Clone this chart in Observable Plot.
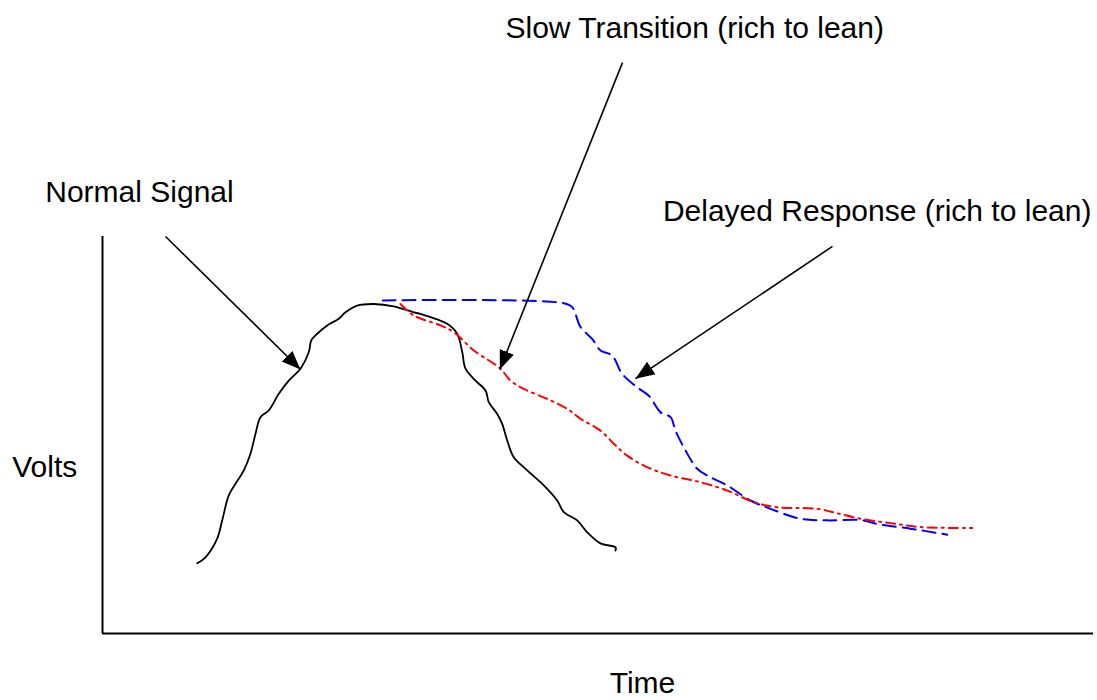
<!DOCTYPE html>
<html>
<head>
<meta charset="utf-8">
<script src="https://cdn.jsdelivr.net/npm/d3@7"></script>
<script src="https://cdn.jsdelivr.net/npm/@observablehq/plot@0.6"></script>
<style>
  html, body { margin: 0; padding: 0; background: #fff; }
  #chart svg { display: block; }
</style>
</head>
<body>
<div id="chart"></div>
<script>
// Time (0–100) and Volts (0–10)
const normalTime  = [9.56,10.39,11.57,12.08,12.74,13.42,14.26,14.93,15.44,15.94,16.78,17.79,18.80,19.98,20.82,21.06,21.67,22.67,23.84,24.52,25.70,27.38,29.39,31.41,32.09,34.78,35.79,36.30,36.63,37.64,38.65,38.98,39.83,40.33,40.84,41.50,42.86,44.53,45.88,46.55,47.90,48.91,50.25,51.77,51.77];
const normalVolts = [1.77,1.92,2.39,2.85,3.48,3.77,4.11,4.53,5.03,5.45,5.62,6.04,6.37,6.67,7.09,7.38,7.55,7.76,7.93,8.09,8.26,8.30,8.24,8.09,8.05,7.80,7.55,7.09,6.67,6.37,6.12,5.83,5.53,5.28,4.86,4.44,4.11,3.73,3.35,3.06,2.85,2.55,2.27,2.17,2.09];

const slowTime  = [30.07,31.41,34.11,35.45,37.47,40.16,41.17,42.51,44.87,46.89,48.23,50.25,51.60,52.94,54.96,57.32,60.34,63.04,65.72,68.08,72.12,74.13,76.49,79.52,82.54,87.76];
const slowVolts = [8.30,8.01,7.76,7.59,7.13,6.67,6.37,6.16,5.91,5.66,5.41,5.11,4.78,4.48,4.19,3.98,3.81,3.60,3.31,3.18,3.14,3.03,2.89,2.78,2.68,2.66];

const delayedTime  = [28.28,46.55,47.40,48.23,49.41,50.25,51.43,52.44,53.96,55.13,56.31,57.32,57.82,58.83,60.01,61.02,63.04,65.39,67.41,70.43,73.13,76.49,78.17,81.53,85.24];
const delayedVolts = [8.39,8.32,8.22,7.72,7.42,7.13,7.00,6.54,6.20,5.99,5.57,5.45,5.11,4.61,4.15,3.98,3.73,3.35,3.14,2.89,2.85,2.86,2.76,2.64,2.49];

// Annotation labels and their anchor points (time, volts)
const labelText  = ["Slow Transition (rich to lean)", "Normal Signal", "Delayed Response (rich to lean)", "Volts", "Time"];
const labelTime  = [59.76, 3.73, 78.17, -5.83, 54.49];
const labelVolts = [15.01, 10.88, 10.38, 3.95, -1.49];

// Arrows: from (time1, volts1) to (time2, volts2)
const arrowTime1  = [6.36, 52.47, 73.66];
const arrowVolts1 = [10.00, 14.38, 9.75];
const arrowTime2  = [19.98, 40.09, 53.78];
const arrowVolts2 = [6.65, 6.65, 6.42];

const toRows = (xs, ys) => xs.map((x, i) => ({time: x, volts: ys[i]}));
const normal = toRows(normalTime, normalVolts);
const slow = toRows(slowTime, slowVolts);
const delayed = toRows(delayedTime, delayedVolts);
const labels = labelText.map((t, i) => ({text: t, time: labelTime[i], volts: labelVolts[i]}));
const arrows = arrowTime1.map((t, i) => ({t1: t, v1: arrowVolts1[i], t2: arrowTime2[i], v2: arrowVolts2[i]}));

function filledArrow(color, context) {
  const ns = "http://www.w3.org/2000/svg";
  const doc = context && context.document ? context.document : document;
  const m = doc.createElementNS(ns, "marker");
  m.setAttribute("viewBox", "0 -5 10 10");
  m.setAttribute("refX", "10");
  m.setAttribute("refY", "0");
  m.setAttribute("markerUnits", "userSpaceOnUse");
  m.setAttribute("markerWidth", "19");
  m.setAttribute("markerHeight", "19");
  m.setAttribute("orient", "auto");
  const p = doc.createElementNS(ns, "path");
  p.setAttribute("d", "M0,-4L10,0L0,4Z");
  p.setAttribute("fill", color);
  p.setAttribute("stroke", "none");
  m.appendChild(p);
  return m;
}

const chart = Plot.plot({
  width: 1097,
  height: 700,
  margin: 0,
  style: {background: "#fff", fontFamily: "'Liberation Sans', Arial, sans-serif"},
  x: {domain: [0, 100], range: [102, 1093], axis: null},
  y: {domain: [0, 10], range: [633, 236], axis: null},
  marks: [
    Plot.ruleX([0], {y1: 0, y2: 10, stroke: "#000", strokeWidth: 2}),
    Plot.ruleY([0], {x1: 0, x2: 100, stroke: "#000", strokeWidth: 2}),
    Plot.line(normal, {x: "time", y: "volts", stroke: "#000", strokeWidth: 1.8, curve: "catmull-rom"}),
    Plot.line(delayed, {x: "time", y: "volts", stroke: "#0000ff", strokeWidth: 2, strokeDasharray: "13,7", curve: "catmull-rom"}),
    Plot.line(slow, {x: "time", y: "volts", stroke: "#ff0000", strokeWidth: 2, strokeDasharray: "9,5,2,5", curve: "catmull-rom"}),
    Plot.link(arrows, {x1: "t1", y1: "v1", x2: "t2", y2: "v2", stroke: "#000", strokeWidth: 1.6, markerEnd: filledArrow}),
    Plot.text(labels, {x: "time", y: "volts", text: "text", textAnchor: "middle", lineAnchor: "bottom", fontSize: 30, fill: "#000"})
  ]
});
document.getElementById("chart").appendChild(chart);
</script>
</body>
</html>
